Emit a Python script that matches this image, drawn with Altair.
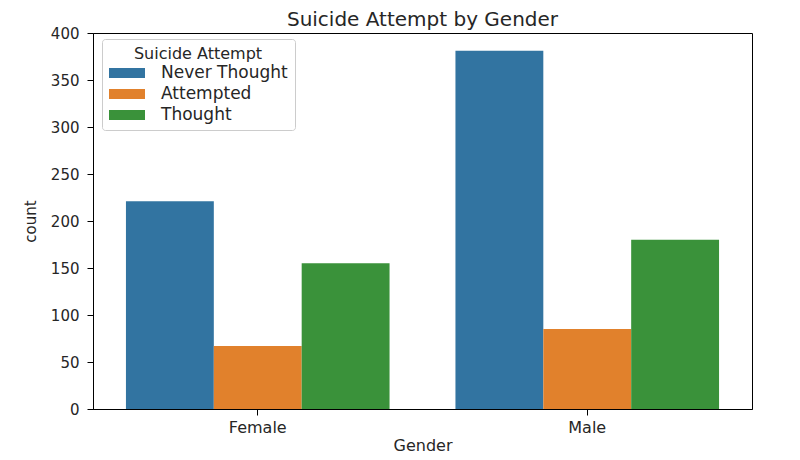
import altair as alt
import pandas as pd

genders = ["Female", "Male"]
attempts = ["Never Thought", "Attempted", "Thought"]
female_counts = [221, 67, 155]
male_counts = [381, 85, 180]
colors = ["#3274a1", "#e1812c", "#3a923a"]

rows = []
for g, vals in zip(genders, [female_counts, male_counts]):
    for a, v in zip(attempts, vals):
        rows.append({"Gender": g, "Suicide Attempt": a, "count": v})
df = pd.DataFrame(rows)

FONT = "DejaVu Sans"
TXT = "#262626"

chart = alt.Chart(df).mark_bar().encode(
    x=alt.X("Gender:N", sort=genders,
            scale=alt.Scale(paddingInner=0.2, paddingOuter=0.1),
            axis=alt.Axis(labelAngle=0, labelFontSize=16, titleFontSize=16,
                          tickSize=6, labelPadding=4, titlePadding=2)),
    xOffset=alt.XOffset("Suicide Attempt:N", sort=attempts,
                        scale=alt.Scale(paddingInner=0, paddingOuter=0)),
    y=alt.Y("count:Q", scale=alt.Scale(domain=[0, 400], nice=False),
            axis=alt.Axis(values=list(range(0, 401, 50)), grid=False,
                          labelFontSize=15, titleFontSize=15, tickSize=6,
                          labelPadding=8, titlePadding=12)),
    color=alt.Color("Suicide Attempt:N", sort=attempts,
                    scale=alt.Scale(domain=attempts, range=colors),
                    legend=alt.Legend(
                        orient="none", legendX=9, legendY=6,
                        title="Suicide Attempt", titleFontSize=16,
                        titleFontWeight="normal", titleAnchor="middle",
                        titleColor=TXT, titleFont=FONT, titlePadding=2,
                        labelFontSize=17, labelColor=TXT, labelFont=FONT,
                        symbolType="M-2,-0.56H2V0.56H-2Z", symbolSize=324,
                        symbolOffset=9, labelOffset=25, symbolStrokeWidth=0,
                        rowPadding=4, padding=7, fillColor="white",
                        strokeColor="#cccccc", cornerRadius=3)),
).properties(
    width=659, height=376,
    title=alt.TitleParams("Suicide Attempt by Gender", fontSize=20, font=FONT,
                          fontWeight="normal", color=TXT, anchor="middle",
                          frame="group", offset=0, dy=4),
    autosize=alt.AutoSizeParams(type="none"),
    padding={"left": 85, "top": 25, "right": 40, "bottom": 55},
).configure(
    font=FONT, background="white"
).configure_view(
    stroke="#000000", strokeWidth=1
).configure_axis(
    domainColor="#000000", tickColor="#000000", labelColor=TXT,
    titleColor=TXT, titleFontWeight="normal", labelFont=FONT, titleFont=FONT,
    domainWidth=1
)

chart.save("out.html", embed_options={"renderer": "svg", "actions": False})
